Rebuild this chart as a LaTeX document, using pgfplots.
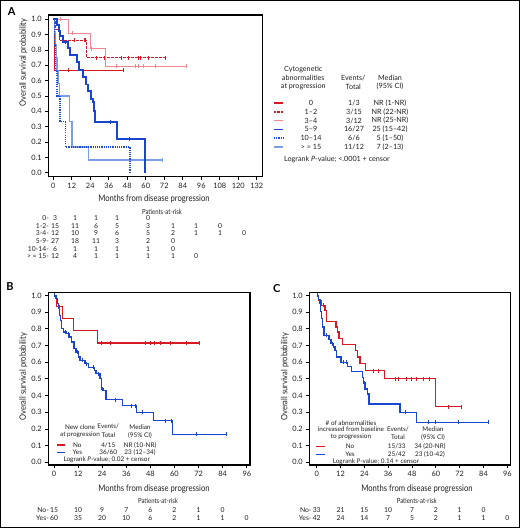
\documentclass[border=0pt]{standalone}
\usepackage{fontspec}
\setmainfont{Lato}
\usepackage{graphicx}
\usepackage{pgfplots}
\pgfplotsset{compat=1.18}
\definecolor{kmred}{RGB}{215,25,35}
\definecolor{kmpink}{RGB}{238,135,145}
\definecolor{kmblue}{RGB}{25,70,205}
\definecolor{kmdblue}{RGB}{30,75,215}
\definecolor{kmltblue}{RGB}{125,158,228}
\definecolor{txt}{RGB}{30,30,30}
\newcommand{\fs}[1]{\fontsize{#1}{#1}\selectfont}
\newcommand{\cond}[1]{\scalebox{0.85}[1]{#1}}
\pgfplotsset{km/.style={scale only axis, anchor=south west,
  axis line style={line width=1.1pt}, tick align=outside, tick pos=left,
  major tick length=3pt, every tick/.style={black, line width=0.7pt},
  ytick={0,0.1,0.2,0.3,0.4,0.5,0.6,0.7,0.8,0.9,1},
  /pgf/number format/assume math mode=true,
  yticklabel style={/pgf/number format/fixed, /pgf/number format/fixed zerofill, /pgf/number format/precision=1},
  ticklabel style={font=\fs{7.4}, text=txt},
  clip=false},
  cens/.style={only marks, mark=|, mark size=2pt, mark options={line width=0.7pt, solid}}}
\begin{document}
\begin{tikzpicture}
\useasboundingbox (0pt,0pt) rectangle (520pt,528pt);
\draw[line width=1.2pt] (0.6pt,0.6pt) rectangle (519.4pt,527.4pt);
% ---------------- Panel A
\begin{axis}[km, at={(48.3pt,351.3pt)}, width=214pt, height=161.7pt,
  xmin=-3.24, xmax=135.6, ymin=-0.026, ymax=1.028, xtick={0,12,...,132}]
\addplot[const plot, color=kmred, line width=1.1pt] coordinates {(0,1)(0.9,0.667)(45.7,0.667)};
\addplot[const plot, color=kmred, line width=1.5pt, dash pattern=on 2.6pt off 1.4pt] coordinates {(0,1)(1.5,0.933)(4,0.862)(21.6,0.75)(72.7,0.75)};
\addplot[const plot, color=kmpink, line width=1.1pt] coordinates {(0,1)(9.7,0.909)(24,0.808)(34,0.693)(86.3,0.693)};
\addplot[const plot, color=kmltblue, line width=1.3pt] coordinates {(0,1)(1,0.917)(1.5,0.833)(2,0.75)(2.5,0.667)(3,0.583)(4,0.5)(10.6,0.333)(12.2,0.167)(22.7,0.083)(71,0.083)};
\addplot[const plot, color=kmdblue, line width=1.7pt, dash pattern=on 1.1pt off 1.1pt] coordinates {(0,1)(0.8,0.833)(1.5,0.667)(2.2,0.5)(4.3,0.333)(8,0.167)(49.6,0.167)(49.6,0)};
\addplot[const plot, color=kmblue, line width=1.9pt] coordinates {(0,1)(2.6,0.963)(3.5,0.926)(4.3,0.889)(6.5,0.852)(9.7,0.81)(10.8,0.765)(15.1,0.72)(16.8,0.67)(19.4,0.625)(21.1,0.575)(22.6,0.535)(24.2,0.48)(25.5,0.46)(26.3,0.405)(27,0.333)(41.4,0.222)(59.5,0.222)(59.5,0)};
\addplot[cens, color=kmred] coordinates {(10,0.667)(45.7,0.667)(13.6,0.862)(20,0.862)(21.1,0.862)(28,0.75)(33,0.75)(44,0.75)(48.5,0.75)(55,0.75)(56.5,0.75)(61.5,0.75)(72.7,0.75)};
\addplot[cens, color=kmpink] coordinates {(4.7,1)(12.5,0.909)(25,0.808)(41,0.693)(53.5,0.693)(55,0.693)(58.7,0.693)(66,0.693)(86.3,0.693)};
\addplot[cens, color=kmblue] coordinates {(8,0.852)(36.7,0.333)(49.6,0.222)};
\addplot[cens, color=kmltblue] coordinates {(71,0.083)};
\end{axis}
% ---------------- Panel B
\begin{axis}[km, at={(48.3pt,63pt)}, width=201.7pt, height=172.3pt,
  xmin=-2.84, xmax=97.6, ymin=-0.016, ymax=1.016, xtick={0,12,...,96}]
\addplot[const plot, color=kmred, line width=1.3pt] coordinates {(0,1)(1.3,0.933)(4.3,0.862)(9.6,0.788)(21.6,0.714)(72.4,0.714)};
\addplot[const plot, color=kmblue, line width=1.3pt] coordinates {(0,1)(1.0,0.983)(1.7,0.95)(2.2,0.92)(2.7,0.88)(3.3,0.85)(3.8,0.80)(4.7,0.78)(6.3,0.77)(7.5,0.75)(8.8,0.72)(10.0,0.68)(11.0,0.66)(12.1,0.63)(13.0,0.61)(15.4,0.59)(17.1,0.57)(20.1,0.55)(20.9,0.53)(22.9,0.50)(23.8,0.44)(24.6,0.43)(25.9,0.375)(34.2,0.34)(41.2,0.30)(49.5,0.25)(59.1,0.167)(85.7,0.167)};
\addplot[cens, color=kmred] coordinates {(2.7,0.933)(23.8,0.714)(27.9,0.714)(45.3,0.714)(47.8,0.714)(49.8,0.714)(52.8,0.714)(57.8,0.714)(65.8,0.714)(72.4,0.714)};
\addplot[cens, color=kmblue] coordinates {(0.3,1)(5.5,0.78)(7,0.77)(11.5,0.66)(14,0.61)(16,0.59)(19.5,0.57)(22,0.53)(24.2,0.44)(30.4,0.375)(38.7,0.34)(40.4,0.34)(44.2,0.30)(55.3,0.25)(58.6,0.25)(70.8,0.167)(85.7,0.167)};
\end{axis}
% ---------------- Panel C
\begin{axis}[km, at={(309.3pt,63pt)}, width=201.4pt, height=172.3pt,
  xmin=-3.73, xmax=97.7, ymin=-0.016, ymax=1.016, xtick={0,12,...,96}]
\addplot[const plot, color=kmred, line width=1.3pt] coordinates {(0,1)(1.0,0.97)(2.2,0.94)(4.2,0.91)(5.0,0.845)(9.7,0.81)(10.4,0.78)(11.2,0.74)(12.9,0.705)(19.6,0.67)(20.7,0.63)(21.8,0.59)(24.7,0.55)(34.1,0.50)(59.9,0.333)(73.0,0.333)};
\addplot[const plot, color=kmblue, line width=1.3pt] coordinates {(0,1)(0.8,0.976)(1.7,0.95)(2.0,0.905)(2.5,0.86)(3.0,0.81)(3.7,0.76)(6.2,0.735)(7.2,0.71)(8.4,0.69)(9.2,0.67)(10.1,0.63)(12.3,0.60)(15.6,0.575)(17.6,0.545)(23.0,0.51)(23.5,0.475)(24.3,0.44)(25.7,0.41)(26.4,0.35)(42.0,0.30)(50.2,0.24)(86.5,0.24)};
\addplot[cens, color=kmred] coordinates {(3.4,0.94)(28.5,0.55)(31.1,0.55)(39.5,0.5)(41.1,0.5)(45.3,0.5)(47.5,0.5)(50.4,0.5)(53.7,0.5)(56.6,0.5)(66.3,0.333)(73,0.333)};
\addplot[cens, color=kmblue] coordinates {(0.4,1)(5,0.76)(7.8,0.71)(13.4,0.60)(15.1,0.60)(24,0.475)(44.5,0.30)(56.2,0.24)(59.6,0.24)(71.4,0.24)(86.5,0.24)};
\end{axis}
% ---------------- texts: panel letters
\node[font=\fs{11}\bfseries] at (11.7pt,516.3pt) {A};
\node[font=\fs{11}\bfseries] at (10pt,241.3pt) {B};
\node[font=\fs{11}\bfseries] at (276.7pt,239.7pt) {C};
% axis titles
\begin{scope}[every node/.style={text=txt}]
\node[rotate=90,font=\fs{8.8}] at (23.3pt,465.7pt) {\cond{Overall survival probability}};
\node[rotate=90,font=\fs{8.8}] at (23.3pt,151.3pt) {\cond{Overall survival probability}};
\node[rotate=90,font=\fs{8.8}] at (285pt,151.3pt) {\cond{Overall survival probability}};
\node[font=\fs{9}] at (154pt,329pt) {\cond{Months from disease progression}};
\node[font=\fs{9}] at (154pt,38.7pt) {\cond{Months from disease progression}};
\node[font=\fs{9}] at (417pt,38.7pt) {\cond{Months from disease progression}};
\node[font=\fs{7}] at (162pt,316.3pt) {\cond{Patients-at-risk}};
\node[font=\fs{7}] at (158pt,27pt) {\cond{Patients-at-risk}};
\node[font=\fs{7}] at (416.7pt,27pt) {\cond{Patients-at-risk}};
% risk table A
\foreach \lab/\yy/\vals in {0-/310/{3,1,1,1,0}, 1-2-/302.3/{15,11,6,5,3,1,1,0}, 3-4-/294.6/{12,10,9,6,5,2,1,1,0}, 5-9-/286.9/{27,18,11,3,2,0}, 10-14-/279.2/{6,1,1,1,1,0}, > = 15-/271.5/{12,4,1,1,1,1,0}}{
  \node[font=\fs{6.8},anchor=east,inner sep=0pt] at (49pt,\yy pt) {\lab};
  \foreach \v [count=\i] in \vals {
    \pgfmathsetmacro{\xx}{{55,75,96,117,148,173,196,220,244}[\i-1]}
    \node[font=\fs{6.8},inner sep=0pt] at (\xx pt,\yy pt) {\v};
  }
}
% risk table B
\node[font=\fs{6.8},anchor=east,inner sep=0pt] at (49pt,18pt) {No-};
\node[font=\fs{6.8},anchor=east,inner sep=0pt] at (49pt,9.7pt) {Yes-};
\foreach \v [count=\i] in {15,10,9,7,6,2,1,0} \node[font=\fs{6.8},inner sep=0pt] at ({54pt+24.08pt*(\i-1)},18pt) {\v};
\foreach \v [count=\i] in {60,35,20,10,6,2,1,1,0} \node[font=\fs{6.8},inner sep=0pt] at ({54pt+24.08pt*(\i-1)},9.7pt) {\v};
% risk table C
\node[font=\fs{6.8},anchor=east,inner sep=0pt] at (311.7pt,18pt) {No-};
\node[font=\fs{6.8},anchor=east,inner sep=0pt] at (311.7pt,9.7pt) {Yes-};
\foreach \v [count=\i] in {33,21,15,10,7,2,1,0} \node[font=\fs{6.8},inner sep=0pt] at ({316.7pt+23.83pt*(\i-1)},18pt) {\v};
\foreach \v [count=\i] in {42,24,14,7,5,2,1,1,0} \node[font=\fs{6.8},inner sep=0pt] at ({316.7pt+23.83pt*(\i-1)},9.7pt) {\v};
% legend A
\node[font=\fs{7.2}] at (303.3pt,458pt) {Cytogenetic};
\node[font=\fs{7.2}] at (303.3pt,449.7pt) {abnormalities};
\node[font=\fs{7.2}] at (303.3pt,441.3pt) {at progression};
\node[font=\fs{7.2}] at (353.3pt,449.7pt) {Events/};
\node[font=\fs{7.2}] at (353.3pt,441.3pt) {Total};
\node[font=\fs{7.2}] at (390pt,449.7pt) {Median};
\node[font=\fs{7.2}] at (390pt,441.3pt) {(95\% CI)};
\foreach \lab/\ev/\med/\yy in {0/1\slash 3/NR (1-NR)/425, 1–2/3\slash 15/NR (22-NR)/416.2, 3–4/3\slash 12/NR (25-NR)/407.4, 5–9/16\slash 27/25 (15–42)/398.6, 10–14/6\slash 6/5 (1–50)/389.8, > = 15/11\slash 12/7 (2–13)/381}{
  \node[font=\fs{7.2}] at (311pt,\yy pt) {\lab};
  \node[font=\fs{7.2}] at (354pt,\yy pt) {\ev};
  \node[font=\fs{7.2}] at (390pt,\yy pt) {\med};
}
\end{scope}
\draw[color=kmred, line width=1.3pt] (274pt,425pt) -- (283pt,425pt);
\draw[color=kmred, line width=1.5pt, dash pattern=on 2.2pt off 1.2pt] (274pt,416.2pt) -- (283pt,416.2pt);
\draw[color=kmpink, line width=1.4pt] (274pt,407.4pt) -- (283pt,407.4pt);
\draw[color=kmblue, line width=1.5pt] (274pt,398.6pt) -- (283pt,398.6pt);
\draw[color=kmdblue, line width=1.5pt, dash pattern=on 1.1pt off 1.1pt] (274pt,389.8pt) -- (283pt,389.8pt);
\draw[color=kmltblue, line width=1.4pt] (274pt,381pt) -- (283pt,381pt);
\draw[color=kmred, line width=1.3pt] (57pt,83pt) -- (65pt,83pt);
\draw[color=kmblue, line width=1.3pt] (57pt,75.3pt) -- (65pt,75.3pt);
\draw[color=kmred, line width=1.3pt] (316pt,81.3pt) -- (325pt,81.3pt);
\draw[color=kmblue, line width=1.3pt] (316pt,73.7pt) -- (325pt,73.7pt);
\begin{scope}[every node/.style={text=txt}]
\node[font=\fs{7.2}] at (337pt,368.7pt) {Logrank \textit{P}-value; <.0001 + censor};
% legend B
\node[font=\fs{6.4}] at (80pt,101.3pt) {New clone};
\node[font=\fs{6.4}] at (80pt,93pt) {at progression};
\node[font=\fs{6.4}] at (108.3pt,101.3pt) {Events/};
\node[font=\fs{6.4}] at (108.3pt,93pt) {Total};
\node[font=\fs{6.4}] at (140pt,101.3pt) {Median};
\node[font=\fs{6.4}] at (140pt,93pt) {(95\% CI)};
\node[font=\fs{6.4}] at (77.3pt,83pt) {No};
\node[font=\fs{6.4}] at (108.3pt,83pt) {4/15};
\node[font=\fs{6.4}] at (140pt,83pt) {NR (10-NR)};
\node[font=\fs{6.4}] at (77.3pt,75.3pt) {Yes};
\node[font=\fs{6.4}] at (108.3pt,75.3pt) {36/60};
\node[font=\fs{6.4}] at (140pt,75.3pt) {23 (12–34)};
\node[font=\fs{6.4}] at (106.7pt,68.7pt) {Logrank \textit{P}-value; 0.02 + censor};
% legend C
\node[font=\fs{6.4}] at (351pt,105.3pt) {\# of abnormalities};
\node[font=\fs{6.4}] at (351pt,98.5pt) {increased from baseline};
\node[font=\fs{6.4}] at (351pt,91pt) {to progression};
\node[font=\fs{6.4}] at (398pt,98.5pt) {Events/};
\node[font=\fs{6.4}] at (398pt,91pt) {Total};
\node[font=\fs{6.4}] at (433pt,98.5pt) {Median};
\node[font=\fs{6.4}] at (433pt,91pt) {(95\% CI)};
\node[font=\fs{6.4}] at (350pt,81.3pt) {No};
\node[font=\fs{6.4}] at (396.7pt,81.3pt) {15/33};
\node[font=\fs{6.4}] at (430pt,81.3pt) {34 (20-NR)};
\node[font=\fs{6.4}] at (350pt,73.7pt) {Yes};
\node[font=\fs{6.4}] at (396.7pt,73.7pt) {25/42};
\node[font=\fs{6.4}] at (430pt,73.7pt) {23 (10-42)};
\node[font=\fs{6.4}] at (376pt,66.3pt) {Logrank \textit{P}-value; 0.14 + censor};
\end{scope}
\end{tikzpicture}
\end{document}
